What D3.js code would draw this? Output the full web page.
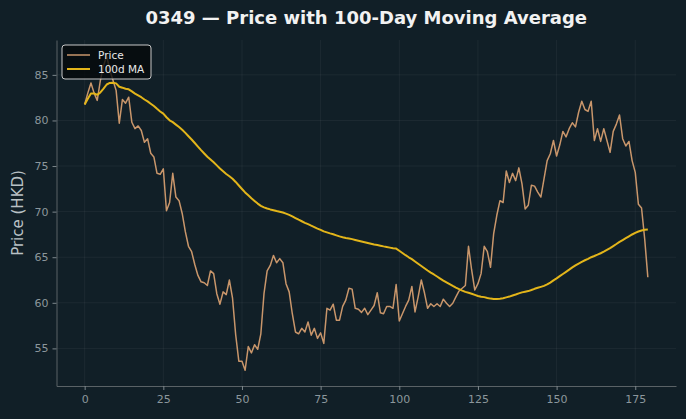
<!DOCTYPE html>
<html>
<head>
<meta charset="utf-8">
<script src="https://cdn.jsdelivr.net/npm/d3@7"></script>
<style>
  html, body { margin: 0; padding: 0; background: #111f27; }
  svg { display: block; font-family: "DejaVu Sans", sans-serif; }
</style>
</head>
<body>
<div id="chart"></div>
<script>
// daily closing prices (day 0..179)
const price = [
  81.75, 83.0, 84.1, 83.0, 82.2, 84.4, 86.0, 87.1, 85.5, 84.4,
  83.3, 79.7, 82.3, 81.9, 82.55, 79.8, 79.1, 79.4, 78.9, 77.6,
  78.0, 76.4, 76.0, 74.2, 74.1, 74.7, 70.1, 71.0, 74.2, 71.6,
  71.2, 69.8, 67.8, 66.2, 65.6, 64.2, 63.0, 62.3, 62.2, 61.9,
  63.5, 63.2, 61.0, 59.85, 61.2, 60.9, 62.5, 60.5, 56.5, 53.6,
  53.6, 52.6, 55.2, 54.5, 55.4, 54.9, 56.6, 61.0, 63.5, 64.1,
  65.2, 64.4, 64.85, 64.4, 62.1, 61.2, 58.8, 56.8, 56.6, 57.2,
  56.8, 57.9, 56.45, 57.2, 56.1, 56.7, 55.55, 59.4, 59.2, 59.85,
  58.1, 58.1, 59.6, 60.3, 61.6, 61.5, 59.4, 59.3, 58.95, 59.4,
  58.7, 59.2, 59.7, 61.1, 58.9, 58.8, 59.6, 59.6, 59.4, 62.0,
  58.0, 58.8, 59.6, 60.3, 61.8, 59.0, 60.65, 62.5, 61.1, 59.4,
  59.9, 59.6, 59.9, 59.6, 60.4, 59.95, 59.6, 59.95, 60.65, 61.3,
  61.6, 61.9, 66.2, 63.6, 61.4, 62.1, 63.2, 66.2, 65.6, 63.9,
  67.6, 69.6, 71.2, 71.0, 74.45, 73.2, 74.2, 73.4, 74.8, 73.05,
  70.3, 70.7, 72.9, 72.8, 72.15, 71.6, 73.6, 75.6, 76.35, 77.8,
  76.1, 77.3, 78.8, 78.2, 79.1, 79.75, 79.3, 80.9, 82.1, 81.2,
  81.0, 82.1, 77.8, 79.1, 77.7, 79.1, 77.8, 76.5, 78.8, 79.6,
  80.6, 78.0, 77.2, 77.7, 75.6, 74.3, 70.8, 70.4, 67.0, 62.8
];
const maWindow = 100;
const xTicks = [0, 25, 50, 75, 100, 125, 150, 175];
const yTicks = [55, 60, 65, 70, 75, 80, 85];
const seriesNames = ["Price", "100d MA"];
const seriesColors = ["#c9966b", "#e3b51a"];

// 100-day rolling mean (min_periods = 1), as in the original chart
const ma = price.map((_, i) => d3.mean(price.slice(Math.max(0, i - maWindow + 1), i + 1)));

const W = 686, H = 419;
const margin = { top: 40, right: 10, bottom: 33, left: 56.5 };
const width = W - margin.left - margin.right;
const height = H - margin.top - margin.bottom;

const svg = d3.select("#chart").append("svg")
  .attr("width", W)
  .attr("height", H);

svg.append("rect").attr("width", W).attr("height", H).attr("fill", "#111f27");

const g = svg.append("g")
  .attr("transform", "translate(" + margin.left + "," + margin.top + ")");

// matplotlib style 5% margins
const n = price.length - 1;
const xPad = n * 0.05;
const lo = d3.min(price), hi = d3.max(price);
const yPad = (hi - lo) * 0.05;

const x = d3.scaleLinear().domain([-xPad, n + xPad]).range([0, width]);
const y = d3.scaleLinear().domain([lo - yPad, hi + yPad]).range([height, 0]);

// grid
g.append("g").selectAll("line").data(xTicks).enter().append("line")
  .attr("x1", d => x(d)).attr("x2", d => x(d))
  .attr("y1", 0).attr("y2", height)
  .attr("stroke", "#ffffff").attr("stroke-opacity", 0.05);
g.append("g").selectAll("line").data(yTicks).enter().append("line")
  .attr("x1", 0).attr("x2", width)
  .attr("y1", d => y(d)).attr("y2", d => y(d))
  .attr("stroke", "#ffffff").attr("stroke-opacity", 0.05);

// axes
const xAxis = g.append("g")
  .attr("transform", "translate(0," + height + ")")
  .call(d3.axisBottom(x).tickValues(xTicks).tickSize(4).tickPadding(5).tickSizeOuter(0));
const yAxis = g.append("g")
  .call(d3.axisLeft(y).tickValues(yTicks).tickSize(4).tickPadding(4).tickSizeOuter(0));

[xAxis, yAxis].forEach(a => {
  a.select(".domain").attr("stroke", "#5a6266");
  a.selectAll(".tick line").attr("stroke", "#7d878c");
  a.selectAll(".tick text")
    .attr("fill", "#8c979c")
    .attr("font-size", "11px")
    .attr("font-family", "DejaVu Sans");
});

// lines
const line = d3.line().x((d, i) => x(i)).y(d => y(d));

g.append("path")
  .datum(price)
  .attr("fill", "none")
  .attr("stroke", seriesColors[0])
  .attr("stroke-width", 1.5)
  .attr("stroke-linejoin", "round")
  .attr("d", line);

g.append("path")
  .datum(ma)
  .attr("fill", "none")
  .attr("stroke", seriesColors[1])
  .attr("stroke-width", 2)
  .attr("stroke-linejoin", "round")
  .attr("d", line);

// title
svg.append("text")
  .attr("x", margin.left + width / 2)
  .attr("y", 24)
  .attr("text-anchor", "middle")
  .attr("font-size", "18px")
  .attr("font-weight", "bold")
  .attr("fill", "#f2f2f2")
  .text("0349 — Price with 100-Day Moving Average");

// y label
svg.append("text")
  .attr("transform", "translate(23," + (margin.top + height / 2) + ") rotate(-90)")
  .attr("text-anchor", "middle")
  .attr("font-size", "15px")
  .attr("fill", "#b9c1c5")
  .text("Price (HKD)");

// legend
const leg = svg.append("g").attr("transform", "translate(62,45)");
leg.append("rect")
  .attr("width", 89).attr("height", 34).attr("rx", 3)
  .attr("fill", "#05090b").attr("fill-opacity", 0.8)
  .attr("stroke", "#c8c8c8").attr("stroke-width", 1);

seriesNames.forEach((name, i) => {
  leg.append("line")
    .attr("x1", 5).attr("x2", 28)
    .attr("y1", 10 + i * 14).attr("y2", 10 + i * 14)
    .attr("stroke", seriesColors[i])
    .attr("stroke-width", i === 0 ? 1.5 : 2);
  leg.append("text")
    .attr("x", 36).attr("y", 14 + i * 14)
    .attr("font-size", "10.5px")
    .attr("fill", "#e8e8e8")
    .text(name);
});
</script>
</body>
</html>
